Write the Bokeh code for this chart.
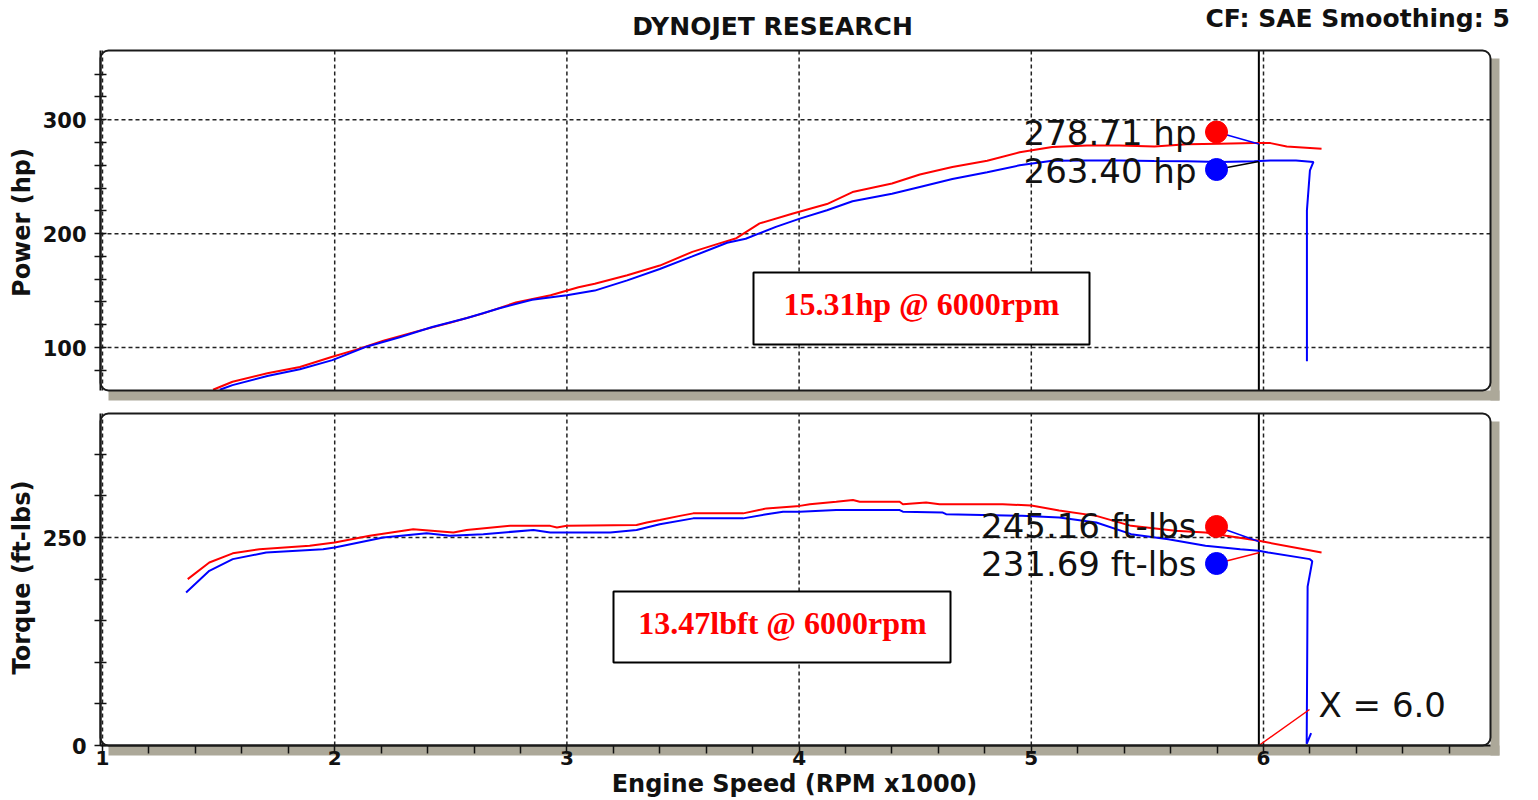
import math
from bokeh.plotting import figure
from bokeh.layouts import column
from bokeh.models import FixedTicker, Label, BoxAnnotation, Range1d
from bokeh.embed import file_html
from bokeh.resources import INLINE

# ---------------- data ----------------
hp_red_rpm = [1.476, 1.56, 1.71, 1.85, 1.99, 2.09, 2.21, 2.35, 2.50, 2.64, 2.78, 2.93, 3.05, 3.12,
              3.26, 3.40, 3.54, 3.65, 3.73, 3.83, 3.97, 4.12, 4.23, 4.40, 4.52, 4.66, 4.81, 4.95,
              5.09, 5.24, 5.38, 5.53, 5.67, 5.81, 5.96, 6.03, 6.10, 6.25]
hp_red = [63, 70, 77.5, 83, 92, 98, 106, 114, 122, 130, 139.5, 146, 153, 156,
          163.5, 172, 184, 191, 196, 209, 217.5, 226, 236.5, 244, 252, 258.5, 264, 271.5,
          276, 277.5, 277.5, 276.5, 278.5, 279, 279.5, 279.5, 276.5, 274.5]

hp_blue_rpm = [1.505, 1.56, 1.71, 1.85, 1.99, 2.14, 2.28, 2.42, 2.57, 2.71, 2.85, 3.0, 3.12, 3.26,
               3.40, 3.54, 3.69, 3.77, 3.90, 4.00, 4.12, 4.23, 4.40, 4.52, 4.66, 4.81, 4.95, 5.09,
               5.24, 5.38, 5.53, 5.67, 5.81, 5.96, 6.03, 6.14, 6.215, 6.20, 6.187, 6.187]
hp_blue = [63, 67, 75, 81, 89, 101, 109, 118, 126, 134.5, 142, 146, 150, 159,
           169, 180, 192, 195.5, 206, 213, 220.5, 228.5, 235, 241, 248, 254, 260, 264,
           264.3, 264.3, 263.7, 263.5, 263, 263.5, 264.3, 264.3, 263, 255.6, 220.5, 88]

tq_red_rpm = [1.367, 1.46, 1.561, 1.676, 1.892, 2.0, 2.151, 2.338, 2.511, 2.568, 2.755, 2.928,
              2.957, 3.0, 3.30, 3.344, 3.40, 3.487, 3.544, 3.759, 3.86, 4.003, 4.046, 4.16,
              4.232, 4.261, 4.433, 4.447, 4.547, 4.605, 4.877, 5.0, 5.12, 5.28, 5.43, 5.62,
              5.75, 5.84, 5.98, 6.25]
tq_red = [200, 220, 231, 236, 240, 244, 252, 260, 256, 259, 264, 264,
          262, 264, 265, 268, 271, 276, 279, 279, 285, 288, 290, 293,
          295, 293, 293, 290, 292, 290, 290, 288.5, 282.5, 276, 264, 258,
          256, 252, 246, 232]

tq_blue_rpm = [1.36, 1.46, 1.561, 1.705, 1.95, 2.0, 2.209, 2.396, 2.496, 2.64, 2.856, 2.928,
               3.187, 3.30, 3.40, 3.544, 3.759, 3.86, 3.931, 4.003, 4.16, 4.433, 4.447, 4.619,
               4.633, 4.96, 5.12, 5.28, 5.43, 5.59, 5.75, 5.90, 5.98, 6.02, 6.20, 6.21, 6.19,
               6.186, 6.205]
tq_blue = [184, 210, 224, 232, 236, 238, 250, 255, 252, 254, 259, 256,
           256, 259, 266, 273, 273, 278, 281, 281, 283, 283, 281, 280,
           278, 276, 274, 268, 254, 248, 240, 236, 234, 232, 224, 221.5, 191,
           2, 15]

peak_hp = [278.71, 263.40]
peak_tq = [245.16, 231.69]
cursor_rpm = 5.98
gain_text = ["15.31hp @ 6000rpm", "13.47lbft @ 6000rpm"]
x_ticks = [1, 2, 3, 4, 5, 6]
x_minor = [1.2, 1.4, 1.6, 1.8, 2.2, 2.4, 2.6, 2.8, 3.2, 3.4, 3.6, 3.8, 4.2, 4.4, 4.6, 4.8,
           5.2, 5.4, 5.6, 5.8, 6.2, 6.4, 6.6, 6.8]
hp_ticks = [100, 200, 300]
hp_minor = [80, 120, 140, 160, 180, 220, 240, 260, 280, 320, 340]
tq_ticks = [0, 250]
tq_minor = [50, 100, 150, 200, 300, 350]

# ---------------- geometry helpers (page pixels -> data) ----------------
PX_PER_K = 232.2      # px per 1000 rpm
PX_PER_HP = 1.139
PX_PER_TQ = 0.832
HP_LO = 62.3          # hp at bottom edge of the power panel


def xp(px):
    return 1 + (px - 102) / PX_PER_K


def yhp(py):
    return HP_LO + (390 - py) / PX_PER_HP


def ytq(py):
    return (745 - py) / PX_PER_TQ


PANEL_L, PANEL_R = 100, 1490
XL, XR = xp(PANEL_L), xp(PANEL_R)
FONT = "DejaVu Sans"
INK = "#111111"
SHADOW = "#aca899"


def tick_style(ax, tin, tout, size):
    ax.axis_line_width = 2
    ax.axis_line_color = INK
    ax.major_tick_in = tin
    ax.major_tick_out = tout
    ax.minor_tick_in = tin
    ax.minor_tick_out = tout
    ax.major_tick_line_width = 1.5
    ax.minor_tick_line_width = 1.5
    ax.major_tick_line_color = INK
    ax.minor_tick_line_color = INK
    ax.major_label_text_font = FONT
    ax.major_label_text_font_style = "bold"
    ax.major_label_text_font_size = size
    ax.major_label_text_color = INK


def new_fig(height, y0, y1):
    p = figure(width=1538, height=height, output_backend="svg", toolbar_location=None,
               x_range=Range1d(xp(0), xp(1538)), y_range=Range1d(y0, y1),
               min_border_left=0, min_border_right=0, min_border_top=0, min_border_bottom=0)
    p.outline_line_color = None
    p.background_fill_color = "white"
    p.border_fill_color = "white"
    p.grid.visible = False
    return p


def panel(p, yf, top_py, bot_py, lo, hi, ygrid_ticks):
    # shadow strips (bottom and right)
    p.add_layout(BoxAnnotation(left=xp(PANEL_L + 8), right=xp(PANEL_R + 9),
                               top=yf(bot_py), bottom=yf(bot_py + 10), level="underlay",
                               fill_color=SHADOW, fill_alpha=1, line_color=None))
    p.add_layout(BoxAnnotation(left=xp(PANEL_R), right=xp(PANEL_R + 9),
                               top=yf(top_py + 8), bottom=yf(bot_py + 10), level="underlay",
                               fill_color=SHADOW, fill_alpha=1, line_color=None))
    # dashed grid limited to the panel
    p.segment(x0=x_ticks, x1=x_ticks, y0=[lo] * len(x_ticks), y1=[hi] * len(x_ticks),
              line_color="#222222", line_dash="4 3", line_width=1.5)
    p.segment(x0=[XL] * len(ygrid_ticks), x1=[XR] * len(ygrid_ticks), y0=ygrid_ticks,
              y1=ygrid_ticks, line_color="#222222", line_dash="4 3", line_width=1.5)
    # rounded panel outline
    p.add_layout(BoxAnnotation(left=XL, right=XR, top=hi, bottom=lo,
                               fill_color=None, fill_alpha=0, line_color="#1a1a1a",
                               line_alpha=1, line_width=2, border_radius=8))
    # cursor
    p.line([cursor_rpm, cursor_rpm], [lo, hi], line_color="black", line_width=2)


def text(p, x, y, s, size="34px", align="right", color=INK, font=FONT, style="normal",
         angle=0.0):
    p.add_layout(Label(x=x, y=y, text=s, text_align=align, text_baseline="middle",
                       text_font=font, text_font_style=style, text_font_size=size,
                       text_color=color, angle=angle))


def textbox(p, l, r, t, b):
    p.add_layout(BoxAnnotation(left=l, right=r, top=t, bottom=b, fill_color="white",
                               fill_alpha=1, line_color="black", line_alpha=1, line_width=2))


# ---------------- top: power ----------------
HP_HI = yhp(50)
p1 = new_fig(408, yhp(408), yhp(0))
p1.xaxis.visible = False
ya = p1.yaxis[0]
ya.ticker = FixedTicker(ticks=hp_ticks, minor_ticks=hp_minor)
ya.fixed_location = XL
ya.bounds = (HP_LO, HP_HI)
tick_style(ya, 6, 6, "21px")
ya.major_label_standoff = 8
panel(p1, yhp, 50, 390, HP_LO, HP_HI, hp_ticks)

p1.line(hp_red_rpm, hp_red, line_color="#ff0000", line_width=2)
p1.line(hp_blue_rpm, hp_blue, line_color="#0000ff", line_width=2)

dot_x = xp(1216)
p1.line([dot_x, cursor_rpm], [yhp(131.5), peak_hp[0]], line_color="#0000ff", line_width=1.5)
p1.line([dot_x, cursor_rpm], [yhp(169), peak_hp[1]], line_color="black", line_width=1.5)
p1.scatter([dot_x], [yhp(131.5)], size=22, color="#ff0000")
p1.scatter([dot_x], [yhp(169)], size=22, color="#0000ff")
text(p1, xp(1196), yhp(132.5), f"{peak_hp[0]:.2f} hp")
text(p1, xp(1196), yhp(170), f"{peak_hp[1]:.2f} hp")

textbox(p1, xp(753), xp(1089), yhp(272), yhp(344))
text(p1, xp(921), yhp(303), gain_text[0], size="32px", align="center", color="#ff0000",
     font="Liberation Serif", style="bold")

text(p1, xp(772), yhp(26), "DYNOJET RESEARCH", size="25px", align="center", style="bold")
text(p1, xp(1518), yhp(18), "CF: SAE  Smoothing: 5", size="25px", align="right", style="bold")
text(p1, xp(21), yhp(222), "Power (hp)", size="24px", align="center", style="bold",
     angle=math.pi / 2)

# ---------------- bottom: torque ----------------
TQ_HI = ytq(413)
p2 = new_fig(392, ytq(800), ytq(408))
ya2 = p2.yaxis[0]
ya2.ticker = FixedTicker(ticks=tq_ticks, minor_ticks=tq_minor)
ya2.fixed_location = XL
ya2.bounds = (0, TQ_HI)
tick_style(ya2, 6, 6, "21px")
ya2.major_label_standoff = 8

xa = p2.xaxis[0]
xa.ticker = FixedTicker(ticks=x_ticks, minor_ticks=x_minor)
xa.fixed_location = 0
xa.bounds = (XL, XR)
tick_style(xa, 0, 8, "20px")
xa.major_label_standoff = -3

panel(p2, ytq, 413, 745, 0, TQ_HI, [250])

p2.line(tq_red_rpm, tq_red, line_color="#ff0000", line_width=2)
p2.line(tq_blue_rpm, tq_blue, line_color="#0000ff", line_width=2)

p2.line([dot_x, cursor_rpm], [ytq(526), peak_tq[0]], line_color="#0000ff", line_width=1.5)
p2.line([dot_x, cursor_rpm], [ytq(563), peak_tq[1]], line_color="#ff0000", line_width=1.5)
p2.scatter([dot_x], [ytq(526)], size=22, color="#ff0000")
p2.scatter([dot_x], [ytq(563)], size=22, color="#0000ff")
p2.line([cursor_rpm, xp(1309)], [0, ytq(709)], line_color="#ff0000", line_width=1.5)

text(p2, xp(1196), ytq(525.5), f"{peak_tq[0]:.2f} ft-lbs")
text(p2, xp(1196), ytq(563.5), f"{peak_tq[1]:.2f} ft-lbs")
text(p2, xp(1318), ytq(704), f"X = {cursor_rpm:.1f}", align="left")

textbox(p2, xp(613), xp(950), ytq(591), ytq(662))
text(p2, xp(782), ytq(622), gain_text[1], size="32px", align="center", color="#ff0000",
     font="Liberation Serif", style="bold")

text(p2, xp(21), ytq(577), "Torque (ft-lbs)", size="24px", align="center", style="bold",
     angle=math.pi / 2)
text(p2, xp(794), ytq(783), "Engine Speed (RPM x1000)", size="24px", align="center",
     style="bold")

layout = column(p1, p2, spacing=0)
open("out.html", "w").write(file_html(layout, INLINE))
